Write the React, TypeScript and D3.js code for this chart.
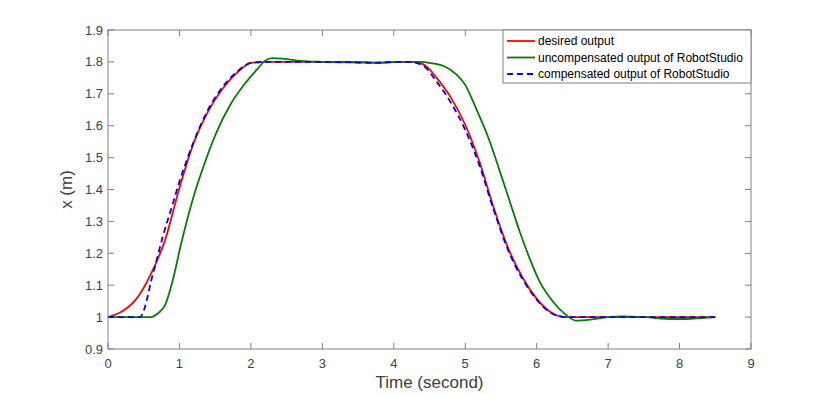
import React from "react";
import * as d3 from "d3";

// desired output (red)
const desiredT = [0, 0.2, 0.4, 0.6, 0.8, 1.0, 1.2, 1.4, 1.6, 1.8, 2.0, 2.2, 2.6, 3.0, 3.4, 3.8, 4.1, 4.3, 4.45, 4.6, 4.8, 5.0, 5.2, 5.4, 5.6, 5.8, 6.0, 6.2, 6.4, 7.0, 7.5, 8.0, 8.5];
const desiredX = [1.0, 1.018, 1.058, 1.135, 1.242, 1.405, 1.546, 1.644, 1.715, 1.765, 1.797, 1.8, 1.8, 1.8, 1.8, 1.798, 1.8, 1.799, 1.787, 1.75, 1.688, 1.603, 1.487, 1.342, 1.217, 1.125, 1.058, 1.015, 1.0, 1.0, 1.0, 1.0, 1.0];

// uncompensated output of RobotStudio (green)
const uncompT = [0, 0.6, 0.7, 0.8, 0.9, 1.03, 1.19, 1.36, 1.52, 1.71, 1.92, 2.1, 2.2, 2.3, 2.45, 2.7, 3.0, 3.5, 3.8, 4.1, 4.4, 4.5, 4.7, 4.88, 5.0, 5.15, 5.34, 5.48, 5.62, 5.76, 5.9, 6.04, 6.23, 6.41, 6.55, 6.75, 7.0, 7.2, 7.5, 7.9, 8.1, 8.3, 8.5];
const uncompX = [1.0, 1.0, 1.012, 1.038, 1.11, 1.236, 1.372, 1.487, 1.58, 1.665, 1.733, 1.78, 1.804, 1.812, 1.81, 1.803, 1.8, 1.798, 1.797, 1.8, 1.8, 1.797, 1.787, 1.76, 1.728, 1.655, 1.553, 1.46, 1.365, 1.27, 1.185, 1.112, 1.048, 1.007, 0.989, 0.992, 1.0, 1.002, 1.0, 0.994, 0.994, 0.997, 1.0];

// compensated output of RobotStudio (blue, dashed)
const compT = [0, 0.45, 0.5, 0.55, 0.6, 0.66, 0.77, 0.9, 1.0, 1.1, 1.2, 1.4, 1.6, 1.8, 2.0, 2.2, 2.6, 3.0, 3.4, 3.7, 4.0, 4.2, 4.4, 4.6, 4.8, 5.0, 5.2, 5.4, 5.6, 5.8, 6.0, 6.2, 6.4, 7.0, 7.5, 8.0, 8.5];
const compX = [1.0, 1.0, 1.02, 1.06, 1.11, 1.16, 1.255, 1.35, 1.425, 1.49, 1.55, 1.65, 1.72, 1.768, 1.797, 1.8, 1.8, 1.8, 1.799, 1.797, 1.8, 1.8, 1.79, 1.738, 1.672, 1.587, 1.475, 1.335, 1.21, 1.12, 1.055, 1.013, 1.0, 1.0, 1.0, 1.0, 1.0];

const xTicks = [0, 1, 2, 3, 4, 5, 6, 7, 8, 9];
const yTicks = [0.9, 1.0, 1.1, 1.2, 1.3, 1.4, 1.5, 1.6, 1.7, 1.8, 1.9];

const series = [
  { name: "desired output", t: desiredT, x: desiredX, color: "#ff0000", dash: null },
  { name: "uncompensated output of RobotStudio", t: uncompT, x: uncompX, color: "#008000", dash: null },
  { name: "compensated output of RobotStudio", t: compT, x: compX, color: "#0000ff", dash: "6,4" },
];

const W = 830;
const H = 394;
const margin = { top: 30, right: 79, bottom: 45, left: 108 };
const FONT = "'Liberation Sans', Arial, sans-serif";
const AXIS = "#808080";
const LABEL = "#404040";

export default function App() {
  const x = d3.scaleLinear().domain([0, 9]).range([margin.left, W - margin.right]);
  const y = d3.scaleLinear().domain([0.9, 1.9]).range([H - margin.bottom, margin.top]);

  const line = d3
    .line<[number, number]>()
    .x(d => x(d[0]))
    .y(d => y(d[1]))
    .curve(d3.curveMonotoneX);

  const x0 = x(0), x1 = x(9), y0 = y(0.9), y1 = y(1.9);
  const tick = 6;

  // legend placement
  const lgX = 503, lgY = y1, lgW = x1 - 503, lgH = 53;
  const rows = [41, 57.5, 74];

  return (
    <svg width={W} height={H} style={{ position: "absolute", left: 0, top: 0, background: "#fff" }} fontFamily={FONT}>
      <rect x={0} y={0} width={W} height={H} fill="#fff" />

      {/* ticks */}
      {xTicks.map(t => (
        <g key={"xt" + t}>
          <line x1={x(t)} x2={x(t)} y1={y0} y2={y0 - tick} stroke={AXIS} />
          <line x1={x(t)} x2={x(t)} y1={y1} y2={y1 + tick} stroke={AXIS} />
          <text x={x(t)} y={y0 + 19} textAnchor="middle" fontSize={13} fill={LABEL}>{t}</text>
        </g>
      ))}
      {yTicks.map(v => (
        <g key={"yt" + v}>
          <line x1={x0} x2={x0 + tick} y1={y(v)} y2={y(v)} stroke={AXIS} />
          <line x1={x1} x2={x1 - tick} y1={y(v)} y2={y(v)} stroke={AXIS} />
          <text x={x0 - 5} y={y(v)} dy="0.35em" textAnchor="end" fontSize={13} fill={LABEL}>
            {d3.format("~g")(+v.toFixed(1))}
          </text>
        </g>
      ))}

      {/* series */}
      {series.map(s => (
        <path
          key={s.name}
          d={line(s.t.map((t, i) => [t, s.x[i]] as [number, number])) || ""}
          fill="none"
          stroke={s.color}
          strokeWidth={1.8}
          strokeDasharray={s.dash || undefined}
        />
      ))}

      {/* box */}
      <rect x={x0} y={y1} width={x1 - x0} height={y0 - y1} fill="none" stroke={AXIS} />

      {/* axis labels */}
      <text x={(x0 + x1) / 2} y={388} textAnchor="middle" fontSize={17} fill={LABEL}>Time (second)</text>
      <text transform={`translate(72,${(y0 + y1) / 2}) rotate(-90)`} textAnchor="middle" fontSize={17} fill={LABEL}>x (m)</text>

      {/* legend */}
      <rect x={lgX} y={lgY} width={lgW} height={lgH} fill="#fff" stroke={AXIS} />
      {series.map((s, i) => (
        <g key={"lg" + i}>
          <line x1={507} x2={535} y1={rows[i]} y2={rows[i]} stroke={s.color} strokeWidth={1.8} strokeDasharray={s.dash || undefined} />
          <text x={538} y={rows[i]} dy="0.35em" fontSize={12} fill="#000">{s.name}</text>
        </g>
      ))}
    </svg>
  );
}
